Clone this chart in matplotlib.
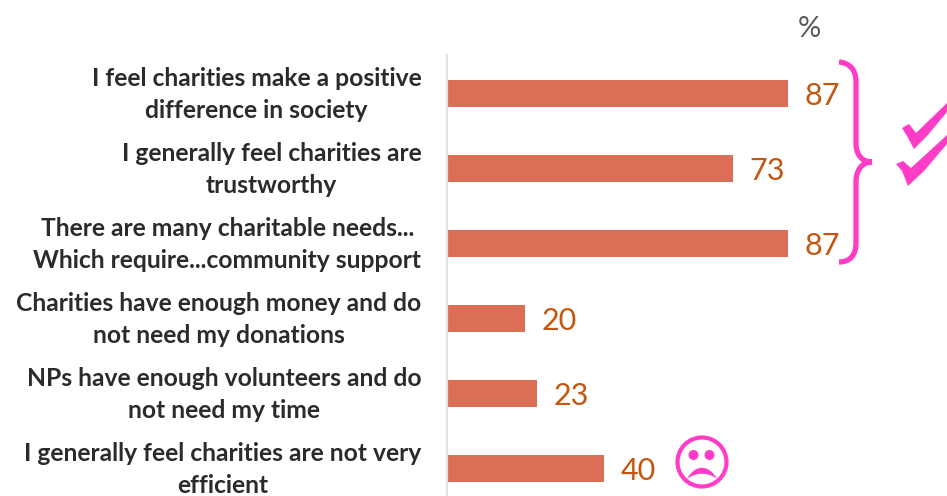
import matplotlib
matplotlib.use("Agg")
import matplotlib.pyplot as plt
from matplotlib.patches import Circle, PathPatch, Polygon
from matplotlib.path import Path
from matplotlib.transforms import ScaledTranslation

categories = [
    "I feel charities make a positive\ndifference in society",
    "I generally feel charities are\ntrustworthy",
    "There are many charitable needs...\nWhich require...community support",
    "Charities have enough money and do\nnot need my donations",
    "NPs have enough volunteers and do\nnot need my time",
    "I generally feel charities are not very\nefficient",
]
values = [87, 73, 87, 20, 23, 40]

BAR_COLOR = "#DB6E55"
VALUE_COLOR = "#C4560F"
PINK = "#FF3CC8"
W, H = 947, 496

plt.rcParams["font.family"] = ["Lato", "DejaVu Sans"]

fig = plt.figure(figsize=(W / 100, H / 100), dpi=100)

# bar area in pixels: left edge 447, top 55, runs off the bottom
ax = fig.add_axes([447 / W, 0, (W - 447) / W, (H - 55) / H])
positions = list(range(len(values)))
bars = ax.barh(positions, values, height=0.36, color=BAR_COLOR)
ax.set_xlim(0, (W - 447) / 3.92)
ax.set_ylim((496 - 93) / 75, (55 - 93) / 75)

ax.set_yticks(positions)
ax.set_yticklabels(categories, fontsize=17.7, fontweight="bold", color="#2B2B2B",
                   multialignment="center", linespacing=1.45)
ax.tick_params(axis="y", length=0, pad=18.5)
# lift the two line labels a little, they sit above the bar centre
lift = ScaledTranslation(0, 5 / 100, fig.dpi_scale_trans)
for label in ax.get_yticklabels():
    label.set_transform(label.get_transform() + lift)
ax.xaxis.set_visible(False)
for side in ["top", "right", "bottom"]:
    ax.spines[side].set_visible(False)
ax.spines["left"].set_color("#E2E2E2")
ax.spines["left"].set_linewidth(1.6)

for pos, val in zip(positions, values):
    ax.annotate(str(val), (val, pos), xytext=(12, -2.5), textcoords="offset points",
                fontsize=22, color=VALUE_COLOR, va="center")

# overlay in pixel coordinates for the hand drawn marks
ov = fig.add_axes([0, 0, 1, 1], facecolor="none")
ov.set_xlim(0, W)
ov.set_ylim(H, 0)
ov.axis("off")

ov.text(809, 29, "%", fontsize=21, color="#595959", ha="center", va="center")

# curly brace
brace_verts = [
    (839, 62), (850, 63), (856, 70), (856, 82),
    (856, 143),
    (856, 155), (862, 162), (872, 162),
    (862, 162), (856, 170), (856, 182),
    (856, 243),
    (856, 255), (850, 262), (839, 262),
]
brace_codes = [
    Path.MOVETO, Path.CURVE4, Path.CURVE4, Path.CURVE4,
    Path.LINETO,
    Path.CURVE4, Path.CURVE4, Path.CURVE4,
    Path.CURVE4, Path.CURVE4, Path.CURVE4,
    Path.LINETO,
    Path.CURVE4, Path.CURVE4, Path.CURVE4,
]
ov.add_patch(PathPatch(Path(brace_verts, brace_codes), fill=False,
                       edgecolor=PINK, linewidth=3.8, capstyle="butt"))

# two tick marks
ov.add_patch(Polygon([(902, 128), (909, 124), (916, 133), (947, 103), (947, 112),
                      (927, 136), (914, 149), (907, 136)], color=PINK, lw=0))
ov.add_patch(Polygon([(896, 164), (903, 161), (911, 168), (947, 135), (947, 144),
                      (924, 171), (908, 186), (902, 171)], color=PINK, lw=0))

# sad face next to the last bar
ov.add_patch(Circle((702, 462), 24.5, fill=False, edgecolor=PINK, linewidth=3))
ov.add_patch(Circle((693.5, 455), 5, color=PINK, lw=0))
ov.add_patch(Circle((709.5, 455), 5, color=PINK, lw=0))
mouth_verts = [(687, 479), (695, 464), (709, 464), (717, 479),
               (708, 472), (696, 472), (687, 479)]
mouth_codes = [Path.MOVETO, Path.CURVE4, Path.CURVE4, Path.CURVE4,
               Path.CURVE4, Path.CURVE4, Path.CURVE4]
ov.add_patch(PathPatch(Path(mouth_verts, mouth_codes), color=PINK, lw=0))

fig.savefig("out.png", dpi=100)
